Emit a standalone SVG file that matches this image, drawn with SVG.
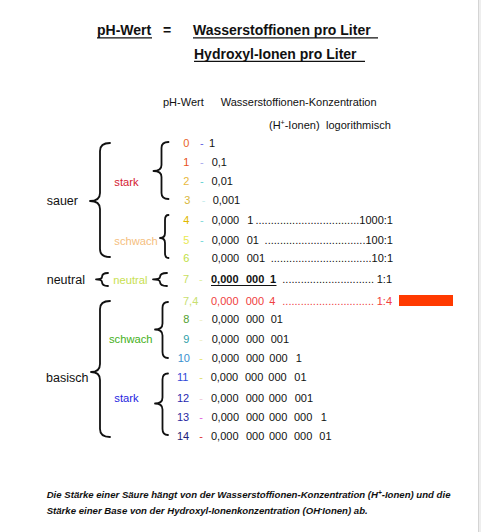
<svg xmlns="http://www.w3.org/2000/svg" width="481" height="532" viewBox="0 0 481 532">
<style>
text{font-family:"Liberation Sans",Arial,sans-serif;font-size:11px;fill:#111}
.t{font-size:14px;font-weight:bold}
.lab{font-size:12.5px}
.sub{font-size:11.2px}
.br{fill:none;stroke:#111;stroke-width:1.8;stroke-linecap:round;stroke-linejoin:round}
.ul{stroke:#111;stroke-width:1.2}
.foot{font-size:9.6px;font-weight:bold;font-style:italic}
.red{fill:#f04040}
</style>
<rect width="481" height="532" fill="#fff"/>
<rect x="478" y="0" width="3" height="532" fill="#eeeeee"/>
<line x1="478.5" y1="0" x2="478.5" y2="532" stroke="#d4d4d4" stroke-width="1"/>

<g id="title">
<text class="t" x="97" y="35">pH-Wert</text>
<text class="t" x="163" y="35">=</text>
<text class="t" x="193" y="35">Wasserstoffionen pro Liter</text>
<text class="t" x="194" y="58.5">Hydroxyl-Ionen pro Liter</text>
<line class="ul" x1="97" y1="37.8" x2="152" y2="37.8"/>
<line class="ul" x1="193" y1="37.8" x2="378" y2="37.8"/>
<line class="ul" x1="194" y1="61.3" x2="365" y2="61.3"/>
</g>

<g id="header">
<text x="163" y="106">pH-Wert</text>
<text x="220.7" y="106">Wasserstoffionen-Konzentration</text>
<text x="269" y="128.5">(H<tspan font-size="7" dy="-4">+</tspan><tspan dy="4">-Ionen)</tspan></text>
<text x="326" y="128.5">logorithmisch</text>
</g>

<g id="labels">
<text class="lab" x="46.7" y="205">sauer</text>
<text class="sub" x="114.3" y="185.5" style="fill:#d42030">stark</text>
<text class="sub" x="114.3" y="244.5" style="fill:#f5c080">schwach</text>
<text class="lab" x="46.7" y="284">neutral</text>
<text class="sub" x="113.3" y="284" style="fill:#c8e050">neutral</text>
<text class="lab" x="46" y="381.5">basisch</text>
<text class="sub" x="109" y="343" style="fill:#44b020">schwach</text>
<text class="sub" x="114.3" y="402" style="fill:#2424e0">stark</text>
</g>

<g id="connectors">
<path class="br" d="M110,143 Q100,143 100,151 L100,193 Q100,201 90,201 Q100,201 100,209 L100,249 Q100,257 110,257"/>
<path class="br" d="M168.5,142 Q161.5,142 161.5,148 L161.5,165 Q161.5,171 153.5,171 Q161.5,171 161.5,177 L161.5,193 Q161.5,199 168.5,199"/>
<path class="br" d="M168.5,215 Q165,215 165,220 L165,233 Q165,238 160,238 Q165,238 165,243 L165,253 Q165,258 168.5,258"/>
<path class="br" d="M108,273 Q102,273 102,277 Q102,279.3 96,279.3 Q102,279.3 102,282 Q102,286 108,286"/>
<path class="br" d="M167,273 Q160,273 160,277 Q160,279.3 153,279.3 Q160,279.3 160,282 Q160,286 167,286"/>
<path class="br" d="M110,301 Q100,301 100,309 L100,364 Q100,372 91,372 Q100,372 100,380 L100,429 Q100,437 110,437"/>
<path class="br" d="M168,302 Q162.5,302 162.5,308 L162.5,323.5 Q162.5,329.5 155,329.5 Q162.5,329.5 162.5,335.5 L162.5,352 Q162.5,358 168,358"/>
<path class="br" d="M168,373.5 Q162.5,373.5 162.5,379.5 L162.5,397.5 Q162.5,403.5 155,403.5 Q162.5,403.5 162.5,409.5 L162.5,429 Q162.5,435 168,435"/>
</g>

<g id="row0"><text x="183.3" y="147" style="fill:#e86428">0</text><text x="200" y="147" style="fill:#6060e0">-</text><text x="209" y="147">1</text></g>
<g id="row1"><text x="183.3" y="166" style="fill:#e85020">1</text><text x="200" y="166" style="fill:#a8a8ec">-</text><text x="211.7" y="166">0,1</text></g>
<g id="row2"><text x="183.3" y="185" style="fill:#e8b840">2</text><text x="200" y="185" style="fill:#60d0d0">-</text><text x="211.5" y="185">0,01</text></g>
<g id="row3"><text x="184.3" y="204" style="fill:#d8b840">3</text><text x="201.7" y="204" style="fill:#c8ecec">-</text><text x="212.7" y="204">0,001</text></g>
<g id="row4"><text x="183.3" y="224" style="fill:#e0b800">4</text><text x="200" y="224" style="fill:#80d8d8">-</text><text x="211.7" y="224">0,000</text><text x="247.3" y="224">1</text><text x="393" y="224" text-anchor="end">..................................1000:1</text></g>
<g id="row5"><text x="183.3" y="244" style="fill:#e8e850">5</text><text x="200" y="244" style="fill:#70d8d8">-</text><text x="211.7" y="244">0,000</text><text x="246.7" y="244">01</text><text x="393" y="244" text-anchor="end">.................................100:1</text></g>
<g id="row6"><text x="183.3" y="262" style="fill:#c0e040">6</text><text x="211.7" y="262">0,000</text><text x="246.7" y="262">001</text><text x="393" y="262" text-anchor="end">.................................10:1</text></g>
<g id="row7"><text x="183" y="283" style="fill:#c8e060">7</text><text x="199" y="283" style="fill:#e0f0a0">-</text>
<text x="211" y="283" font-weight="bold">0,000</text><text x="246" y="283" font-weight="bold">000</text><text x="270" y="283" font-weight="bold">1</text>
<line class="ul" x1="211" y1="285.5" x2="276.5" y2="285.5"/>
<text x="374" y="283" text-anchor="end">..............................</text><text x="392" y="283" text-anchor="end">1:1</text></g>
<g id="row74"><text x="183" y="305" style="fill:#c8e070">7,4</text>
<text class="red" x="211" y="305">0,000</text><text class="red" x="245.7" y="305">000</text><text class="red" x="269.3" y="305">4</text>
<text class="red" x="374" y="305" text-anchor="end">..............................</text><text class="red" x="392" y="305" text-anchor="end">1:4</text>
<rect x="399" y="295" width="54" height="11" fill="#ff3a00"/></g>
<g id="row8"><text x="183.3" y="323" style="fill:#50a030">8</text><text x="199.3" y="323" style="fill:#f0f0c8">-</text><text x="211.7" y="323">0,000</text><text x="246" y="323">000</text><text x="270.7" y="323">01</text></g>
<g id="row9"><text x="183.3" y="343" style="fill:#30a0a8">9</text><text x="199.3" y="343" style="fill:#f0f0c8">-</text><text x="211.7" y="343">0,000</text><text x="246" y="343">000</text><text x="270.7" y="343">001</text></g>
<g id="row10"><text x="177.7" y="362" style="fill:#3890d0">10</text><text x="199.3" y="362" style="fill:#e8e870">-</text><text x="211.7" y="362">0,000</text><text x="246" y="362">000</text><text x="269.3" y="362">000</text><text x="295.7" y="362">1</text></g>
<g id="row11"><text x="177" y="381" style="fill:#3048d8">11</text><text x="199.3" y="381" style="fill:#e0e070">-</text><text x="210.7" y="381">0,000</text><text x="245" y="381">000</text><text x="268.3" y="381">000</text><text x="294.3" y="381">01</text></g>
<g id="row12"><text x="177" y="402" style="fill:#2828b0">12</text><text x="199.3" y="402" style="fill:#f0c8d8">-</text><text x="211" y="402">0,000</text><text x="245.7" y="402">000</text><text x="268.7" y="402">000</text><text x="294.7" y="402">001</text></g>
<g id="row13"><text x="177" y="421" style="fill:#2828a0">13</text><text x="199.3" y="421" style="fill:#e060e0">-</text><text x="211.5" y="421">0,000</text><text x="246" y="421">000</text><text x="269" y="421">000</text><text x="294" y="421">000</text><text x="320.7" y="421">1</text></g>
<g id="row14"><text x="177" y="440" style="fill:#202078">14</text><text x="199.3" y="440" style="fill:#e03030">-</text><text x="211" y="440">0,000</text><text x="246" y="440">000</text><text x="269" y="440">000</text><text x="294" y="440">000</text><text x="319.3" y="440">01</text></g>

<g id="footer">
<text class="foot" x="46.7" y="498">Die Stärke einer Säure hängt von der Wasserstoffionen-Konzentration (H<tspan font-size="6.5" dy="-3.5">+</tspan><tspan dy="3.5">-Ionen) und die</tspan></text>
<text class="foot" x="46.7" y="514">Stärke einer Base von der Hydroxyl-Ionenkonzentration (OH<tspan font-size="6.5" dy="-3">-</tspan><tspan dy="3">Ionen) ab.</tspan></text>
</g>
</svg>
